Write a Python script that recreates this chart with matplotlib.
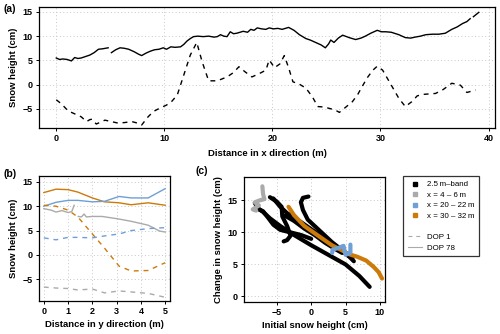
import numpy as np
import matplotlib
matplotlib.use("Agg")
import matplotlib.pyplot as plt
from matplotlib.lines import Line2D

plt.rcParams["font.family"] = ["Liberation Sans", "DejaVu Sans"]
plt.rcParams["font.size"] = 6.8

# ---- panel (a): profile along x ----
xa_dop78 = [0, 0.3, 0.6, 1.0, 1.4, 1.7, 2.0, 2.3, 2.7, 3.1, 3.5, 3.9, 4.3, 4.8, 4.95,
            5.1, 5.5, 5.9, 6.3, 6.7, 7.2, 7.6, 7.9, 8.3, 8.7, 9.1, 9.5, 9.9, 10.2, 10.6,
            11.0, 11.5, 11.8, 12.1, 12.4, 12.7, 13.1, 13.6, 14.1, 14.6, 14.9, 15.2, 15.5,
            15.8, 16.1, 16.4, 16.7, 17.0, 17.3, 17.7, 18.0, 18.3, 18.6, 19.0, 19.4, 19.7,
            20.1, 20.5, 20.9, 21.2, 21.5, 22.0, 22.5, 23.1, 23.5, 24.0, 24.5, 24.9, 25.2,
            25.4, 25.7, 26.1, 26.5, 27.1, 27.7, 28.2, 28.6, 29.1, 29.7, 30.1, 30.5, 31.0,
            31.7, 32.3, 32.8, 33.2, 33.7, 34.2, 34.8, 35.4, 36.0, 36.6, 37.1, 37.6, 38.0,
            38.3, 38.45, 38.6, 39.1]
ya_dop78 = [5.5, 5.2, 5.3, 5.2, 4.9, 5.6, 5.4, 5.5, 5.8, 6.1, 6.6, 7.3, 7.4, 7.6, np.nan,
            6.6, 7.2, 7.6, 7.5, 7.3, 6.8, 6.3, 6.0, 6.5, 6.9, 7.2, 7.3, 7.6, 7.3, 7.8,
            7.7, 7.8, 8.3, 9.0, 9.5, 9.9, 10.0, 9.9, 10.0, 9.8, 9.9, 10.3, 10.0,
            9.9, 10.9, 10.5, 10.6, 10.8, 11.0, 10.8, 11.4, 11.2, 11.7, 11.5, 11.4, 11.7,
            11.5, 11.6, 11.4, 11.6, 11.8, 11.2, 10.3, 9.5, 9.2, 8.7, 8.2, 7.6, 8.4,
            9.2, 8.7, 9.6, 10.2, 9.7, 9.3, 9.6, 10.0, 10.6, 11.2, 10.9, 10.9, 10.8,
            10.3, 9.7, 9.6, 9.8, 10.0, 10.3, 10.4, 10.4, 10.6, 11.4, 11.9, 12.6, 13.0,
            13.6, np.nan, 14.0, 14.9]

xa_dop1 = [0, 0.5, 1.1, 1.7, 2.3, 2.8, 3.1, 3.3, 3.7, 4.1, 4.5, 5.1, 5.7, 6.3, 7.0, 7.5,
           7.9, 8.5, 9.0, 9.6, 10.2, 10.7, 11.2, 11.8, 12.4, 13.0, 13.5, 14.1, 14.9, 15.8,
           16.4, 16.9, 17.5, 18.1, 18.8, 19.4, 19.7, 20.2, 20.7, 21.1, 21.5, 21.9, 22.5,
           23.1, 23.7, 24.2, 24.8, 25.3, 25.8, 26.2, 26.8, 27.4, 27.9, 28.3, 28.8, 29.3,
           29.7, 30.2, 30.9, 31.7, 32.3, 32.9, 33.4, 33.9, 35.1, 35.8, 36.6, 37.4, 38.0, 38.8]
ya_dop1 = [-3.1, -4.0, -5.4, -6.0, -6.6, -7.6, -7.2, -7.1, -8.1, -7.7, -7.3, -7.6, -7.9,
           -7.8, -7.6, -7.9, -8.3, -6.6, -5.5, -4.8, -4.2, -3.4, -2.1, 2.0, 6.1, 8.7, 4.7,
           0.8, 0.8, 1.6, 2.5, 3.7, 2.6, 1.6, 2.3, 3.0, 5.1, 3.5, 4.3, 6.0, 3.5, 0.6, 0.1,
           -0.7, -2.5, -4.5, -4.6, -4.9, -5.2, -5.7, -4.6, -3.5, -2.0, -0.4, 1.5, 3.0,
           3.8, 3.0, 0.3, -2.8, -4.5, -3.5, -2.3, -2.0, -1.8, -1.0, 0.3, -0.1, -1.6, -1.1]

# ---- panel (b): profiles along y ----
yb_x = [0, 0.5, 1.0, 1.4, 2.0, 2.5, 3.1, 3.6, 4.3, 5.0]
orange78 = [12.8, 13.5, 13.4, 12.9, 11.7, 10.9, 10.7, 10.3, 10.7, 10.2]
blue78 = [10.0, 10.8, 11.2, 11.2, 10.9, 11.0, 12.0, 11.7, 11.7, 13.6]
orange1 = [10.2, 10.0, 9.2, 7.8, 4.3, 1.4, -2.3, -3.3, -3.2, -1.6]
blue1 = [3.5, 3.1, 3.6, 3.6, 3.5, 3.9, 4.3, 5.0, 5.4, 5.6]
grey1 = [-6.6, -6.8, -6.9, -7.2, -7.0, -7.8, -7.4, -7.6, -7.9, -8.7]
grey78_x = [0, 0.3, 0.5, 0.75, 1.0, 1.15, 1.25, 1.3, 1.42, 1.55, 1.66, 1.75, 2.0, 2.4, 3.06,
            3.6, 4.3, 4.77, 5.0]
grey78 = [9.5, 9.2, 8.8, 9.1, 8.7, 8.9, 10.2, np.nan, 7.9, 7.8, 8.4, 7.8, 7.9, 7.9, 7.4,
          6.9, 6.1, 4.9, 4.7]

# ---- panel (c): change vs initial snow height ----
band_a_x = [-7.8, -7.0, -6.0, -4.5, -2.5, 0.0, 2.5, 5.0, 7.0, 8.5]
band_a_y = [13.8, 13.2, 12.2, 11.0, 9.6, 8.0, 6.5, 5.0, 3.2, 1.5]
band_b_x = [-6.0, -5.0, -4.3, -4.2, -3.5, -3.0, -3.5, -4.0]
band_b_y = [15.5, 14.8, 14.0, 12.5, 11.0, 9.5, 8.8, 8.6]
band_c_x = [-5.5, -4.5, -3.5, -2.0, 0.0, 2.0, 4.0, 5.5, 6.0]
band_c_y = [15.3, 14.0, 13.0, 12.0, 10.5, 9.0, 7.5, 6.3, 6.0]
band_d_x = [-0.4, -1.2, -1.5, -1.2, -0.5, 1.0, 3.0, 5.0, 6.2]
band_d_y = [15.6, 15.4, 14.7, 13.5, 12.0, 10.5, 8.5, 6.8, 5.5]
band_e_x = [-8.2, -7.6, -7.0, -6.2, -5.5, -4.5, -3.0, -1.5, 0.0]
band_e_y = [14.6, 13.6, 13.3, 12.2, 11.2, 10.4, 10.0, 9.6, 9.0]
band_f_x = [-3.8, -2.5, -1.0, 0.5, 2.0, 3.5, 4.5]
band_f_y = [12.6, 11.8, 10.6, 9.6, 8.4, 7.4, 6.8]
c_grey_x = [-7.1, -7.0, -6.8, -7.5, -8.2, -7.6, -8.5, -8.0]
c_grey_y = [17.2, 16.0, 15.2, 15.0, 14.7, 14.2, 13.6, 13.4]
c_blue_x = [3.05, 3.1, 4.0, 4.7, 5.0, 5.7, 5.7]
c_blue_y = [6.8, 7.3, 7.6, 7.9, 6.5, 6.8, 8.1]
c_orange_x = [-3.3, -2.5, -1.0, 1.0, 3.0, 4.3, 5.5, 6.7, 8.0, 9.1, 9.8, 10.3]
c_orange_y = [14.0, 12.7, 11.0, 9.5, 8.0, 7.3, 6.6, 6.2, 5.6, 4.6, 3.8, 2.8]

ORANGE = "#CC7A0A"
BLUE = "#6E9FD6"
GREY = "#AAAAAA"
DASH = (0, (3.5, 3.5))


def style_axes(ax, xticks, yticks):
    ax.set_xticks(xticks)
    ax.set_yticks(yticks)
    ax.grid(True, color="#C8C8C8", linestyle=(0, (1, 2.5)), linewidth=0.7)
    ax.set_axisbelow(True)
    for s in ax.spines.values():
        s.set_linewidth(0.9)
    ax.tick_params(length=2.5, width=0.7, pad=2, labelsize=6.5)
    for lab in ax.get_xticklabels() + ax.get_yticklabels():
        lab.set_fontweight("bold")


fig = plt.figure(figsize=(5.0, 3.34), dpi=100)

# (a)
ax_a = fig.add_axes([0.078, 0.617, 0.912, 0.362])
ax_a.plot(xa_dop78, ya_dop78, color="black", lw=1.0)
ax_a.plot(xa_dop1, ya_dop1, color="black", lw=1.0, linestyle=DASH)
ax_a.set_xlim(-1.6, 40.6)
ax_a.set_ylim(-8.9, 16.0)
style_axes(ax_a, [0, 10, 20, 30, 40], [-5, 0, 5, 10, 15])
ax_a.set_xlabel("Distance in x direction (m)", fontweight="bold", labelpad=4)
ax_a.set_ylabel("Snow height (cm)", fontweight="bold", labelpad=3)
fig.text(0.006, 0.972, "(a)", fontweight="bold", fontsize=7.5, va="center")

# (b)
ax_b = fig.add_axes([0.078, 0.099, 0.262, 0.374])
ax_b.plot(yb_x, orange78, color=ORANGE, lw=1.0)
ax_b.plot(yb_x, blue78, color=BLUE, lw=1.0)
ax_b.plot(grey78_x, grey78, color=GREY, lw=1.0)
ax_b.plot(yb_x, orange1, color=ORANGE, lw=1.0, linestyle=DASH)
ax_b.plot(yb_x, blue1, color=BLUE, lw=1.0, linestyle=DASH)
ax_b.plot(yb_x, grey1, color=GREY, lw=1.0, linestyle=DASH)
ax_b.set_xlim(-0.2, 5.2)
ax_b.set_ylim(-9.45, 16.2)
style_axes(ax_b, [0, 1, 2, 3, 4, 5], [-5, 0, 5, 10, 15])
ax_b.set_xlabel("Distance in y direction (m)", fontweight="bold", labelpad=3)
ax_b.set_ylabel("Snow height (cm)", fontweight="bold", labelpad=3)
fig.text(0.006, 0.478, "(b)", fontweight="bold", fontsize=7.5, va="center")

# (c)
bands = [(band_a_x, band_a_y), (band_b_x, band_b_y), (band_c_x, band_c_y),
         (band_d_x, band_d_y), (band_e_x, band_e_y), (band_f_x, band_f_y)]
ax_c = fig.add_axes([0.488, 0.097, 0.282, 0.374])
for bx, by in bands:
    ax_c.plot(bx, by, color="black", lw=3, solid_capstyle="round", solid_joinstyle="round")
ax_c.plot(c_orange_x, c_orange_y, color=ORANGE, lw=3, solid_capstyle="round")
ax_c.plot(c_blue_x, c_blue_y, color=BLUE, lw=3, solid_capstyle="round")
ax_c.plot(c_grey_x, c_grey_y, color=GREY, lw=3, solid_capstyle="round")
ax_c.set_xlim(-9.77, 10.73)
ax_c.set_ylim(-0.8, 18.7)
style_axes(ax_c, [-5, 0, 5, 10], [0, 5, 10, 15])
ax_c.set_xlabel("Initial snow height (cm)", fontweight="bold", labelpad=3)
ax_c.set_ylabel("Change in snow height (cm)", fontweight="bold", labelpad=3)
fig.text(0.392, 0.488, "(c)", fontweight="bold", fontsize=7.5, va="center")

# legend
handles = [
    Line2D([], [], color="black", marker="s", markersize=2.8, linestyle="none"),
    Line2D([], [], color=GREY, marker="s", markersize=2.8, linestyle="none"),
    Line2D([], [], color=BLUE, marker="s", markersize=2.8, linestyle="none"),
    Line2D([], [], color=ORANGE, marker="s", markersize=2.8, linestyle="none"),
    Line2D([], [], color="none"),
    Line2D([], [], color=GREY, lw=0.8, linestyle=DASH),
    Line2D([], [], color=GREY, lw=0.8),
]
labels = ["2.5\u2009m\u2013band", "x = 4 \u2013 6\u2009m", "x = 20 \u2013 22\u2009m",
          "x = 30 \u2013 32\u2009m", "", "DOP 1", "DOP 78"]
leg = fig.legend(handles, labels, loc="upper left", bbox_to_anchor=(0.806, 0.473),
                 fontsize=5.7, frameon=True, fancybox=False, edgecolor="black",
                 handlelength=1.8, handletextpad=0.6, labelspacing=0.38,
                 borderpad=0.6, borderaxespad=0)
leg.get_frame().set_linewidth(0.9)

fig.savefig("out.png", dpi=100)
